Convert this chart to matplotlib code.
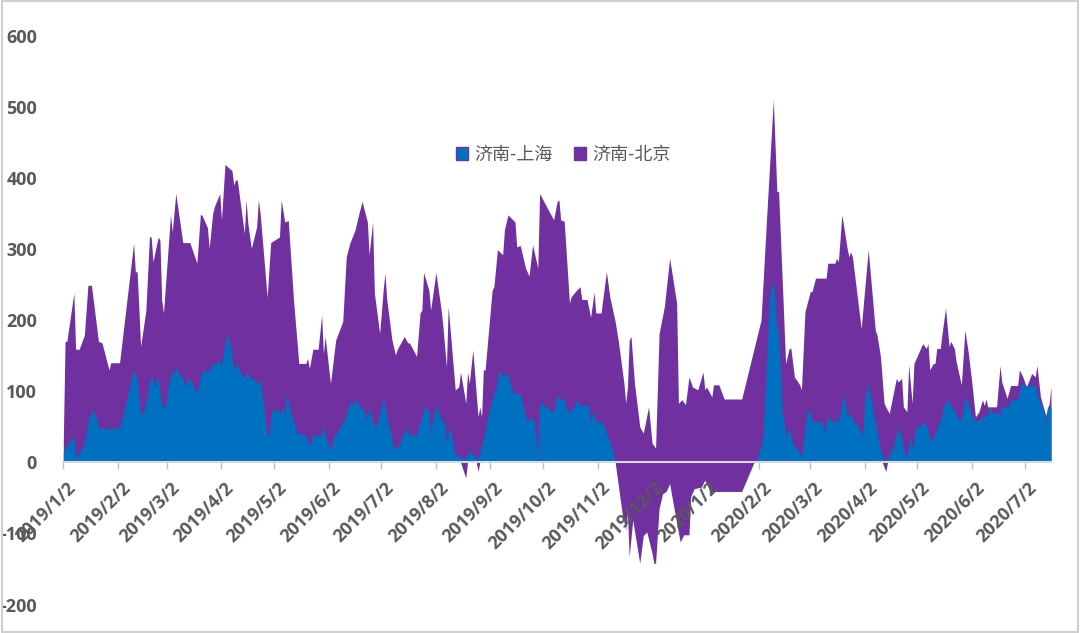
import matplotlib
matplotlib.use('Agg')
import matplotlib.pyplot as plt
import numpy as np
from matplotlib.patches import Patch, Rectangle

# ---------------- data ----------------
sh_dates = ['2019-01-02','2019-01-03','2019-01-05','2019-01-08','2019-01-09','2019-01-10','2019-01-12','2019-01-14',
 '2019-01-16','2019-01-17','2019-01-19','2019-01-21','2019-01-22','2019-02-03','2019-02-07','2019-02-11','2019-02-13',
 '2019-02-15','2019-02-17','2019-02-19','2019-02-20','2019-02-21','2019-02-23','2019-02-25','2019-02-27','2019-03-01',
 '2019-03-03','2019-03-05','2019-03-06','2019-03-07','2019-03-09','2019-03-11','2019-03-12','2019-03-14','2019-03-16',
 '2019-03-19','2019-03-22','2019-03-26','2019-03-28','2019-03-30','2019-04-01','2019-04-02','2019-04-05','2019-04-07',
 '2019-04-09','2019-04-11','2019-04-12','2019-04-15','2019-04-16','2019-04-18','2019-04-21','2019-04-23','2019-04-24',
 '2019-04-26','2019-04-28','2019-04-29','2019-05-01','2019-05-04','2019-05-05','2019-05-07','2019-05-08','2019-05-09',
 '2019-05-11','2019-05-13','2019-05-15','2019-05-20','2019-05-21','2019-05-23','2019-05-24','2019-05-29','2019-05-30',
 '2019-05-31','2019-06-03','2019-06-05','2019-06-08','2019-06-10','2019-06-12','2019-06-14','2019-06-16','2019-06-18',
 '2019-06-20','2019-06-22','2019-06-24','2019-06-25','2019-06-28','2019-06-30','2019-07-01','2019-07-03','2019-07-05',
 '2019-07-07','2019-07-09','2019-07-11','2019-07-13','2019-07-16','2019-07-18','2019-07-22','2019-07-25','2019-07-27',
 '2019-07-29','2019-07-30','2019-08-02','2019-08-05','2019-08-07','2019-08-08','2019-08-10','2019-08-13','2019-08-18',
 '2019-08-22','2019-08-23','2019-08-26','2019-08-29','2019-09-01','2019-09-04','2019-09-05','2019-09-07','2019-09-09',
 '2019-09-11','2019-09-12','2019-09-15','2019-09-19','2019-09-21','2019-09-23','2019-09-25','2019-09-27','2019-09-29',
 '2019-09-30','2019-10-08','2019-10-10','2019-10-12','2019-10-14','2019-10-16','2019-10-19','2019-10-22','2019-10-23',
 '2019-10-28','2019-10-29','2019-10-31','2019-11-01','2019-11-04','2019-11-06','2019-11-08','2019-11-10','2019-11-12',
 '2020-01-31','2020-02-04','2020-02-08','2020-02-10','2020-02-12','2020-02-13','2020-02-15','2020-02-17','2020-02-19',
 '2020-02-21','2020-02-24','2020-02-26','2020-02-27','2020-02-29','2020-03-02','2020-03-03','2020-03-09','2020-03-10',
 '2020-03-12','2020-03-15','2020-03-16','2020-03-18','2020-03-21','2020-03-23','2020-03-25','2020-03-27','2020-03-29',
 '2020-03-31','2020-04-01','2020-04-02','2020-04-04','2020-04-05','2020-04-08','2020-04-11','2020-04-13','2020-04-15',
 '2020-04-18','2020-04-21','2020-04-23','2020-04-24','2020-04-26','2020-04-28','2020-04-29','2020-05-01','2020-05-03',
 '2020-05-06','2020-05-08','2020-05-09','2020-05-11','2020-05-12','2020-05-13','2020-05-15','2020-05-17','2020-05-19',
 '2020-05-20','2020-05-21','2020-05-23','2020-05-26','2020-05-28','2020-05-29','2020-05-31','2020-06-02','2020-06-05',
 '2020-06-08','2020-06-11','2020-06-12','2020-06-14','2020-06-18','2020-06-19','2020-06-23','2020-06-24','2020-06-28',
 '2020-06-30','2020-07-02','2020-07-03','2020-07-08','2020-07-10','2020-07-13','2020-07-14','2020-07-15','2020-07-17']
sh_values = [15,20,27,36,8,8,17,27,
 55,66,74,62,48,48,88,130,118,
 66,74,95,118,120,106,123,78,78,
 111,130,123,134,123,120,107,118,113,
 97,129,129,139,139,144,139,179,167,
 130,139,130,118,127,120,116,109,118,
 81,38,38,76,71,69,78,66,97,
 74,57,41,38,27,27,38,38,52,
 38,17,36,48,55,66,86,81,89,
 76,74,60,78,50,55,69,92,64,
 45,20,20,31,48,38,38,64,81,
 69,43,81,60,55,27,50,10,5,
 17,10,5,31,69,97,102,130,120,
 127,120,97,97,74,57,64,57,8,
 85,70,95,88,88,69,76,88,80,
 80,57,74,57,57,50,34,22,0,
 0,31,238,256,186,186,74,38,48,
 27,17,8,27,71,73,57,57,41,
 64,55,60,57,95,66,67,55,52,
 41,41,88,111,95,57,17,3,5,
 22,48,34,17,8,36,17,48,51,
 57,45,29,36,40,47,60,78,90,
 80,81,73,57,71,92,83,64,57,
 64,66,78,69,69,78,78,88,88,
 113,106,108,108,88,73,57,78,78]

bj_dates = ['2019-01-02','2019-01-03','2019-01-04','2019-01-08','2019-01-09','2019-01-11','2019-01-14','2019-01-16',
 '2019-01-18','2019-01-22','2019-01-24','2019-01-28','2019-01-29','2019-02-03','2019-02-11','2019-02-12','2019-02-13',
 '2019-02-15','2019-02-18','2019-02-20','2019-02-21','2019-02-22','2019-02-25','2019-02-26','2019-02-27','2019-02-28',
 '2019-03-04','2019-03-05','2019-03-07','2019-03-11','2019-03-15','2019-03-19','2019-03-21','2019-03-22','2019-03-25',
 '2019-03-26','2019-03-28','2019-03-29','2019-04-01','2019-04-02','2019-04-04','2019-04-08','2019-04-09','2019-04-10',
 '2019-04-11','2019-04-15','2019-04-16','2019-04-17','2019-04-19','2019-04-22','2019-04-23','2019-04-24','2019-04-28',
 '2019-04-30','2019-05-05','2019-05-06','2019-05-08','2019-05-10','2019-05-13','2019-05-16','2019-05-20','2019-05-21',
 '2019-05-22','2019-05-24','2019-05-27','2019-05-29','2019-05-30','2019-05-31','2019-06-03','2019-06-06','2019-06-10',
 '2019-06-12','2019-06-14','2019-06-17','2019-06-19','2019-06-21','2019-06-24','2019-06-25','2019-06-27','2019-06-28',
 '2019-07-01','2019-07-03','2019-07-04','2019-07-05','2019-07-08','2019-07-10','2019-07-11','2019-07-15','2019-07-17',
 '2019-07-18','2019-07-22','2019-07-24','2019-07-25','2019-07-26','2019-07-29','2019-07-30','2019-08-02','2019-08-05',
 '2019-08-06','2019-08-08','2019-08-09','2019-08-13','2019-08-15','2019-08-16','2019-08-19','2019-08-20','2019-08-21',
 '2019-08-23','2019-08-26','2019-08-27','2019-08-28','2019-08-29','2019-08-30','2019-09-03','2019-09-04','2019-09-06',
 '2019-09-09','2019-09-10','2019-09-12','2019-09-16','2019-09-17','2019-09-19','2019-09-22','2019-09-24','2019-09-26',
 '2019-09-29','2019-09-30','2019-10-08','2019-10-10','2019-10-11','2019-10-12','2019-10-14','2019-10-17','2019-10-18',
 '2019-10-21','2019-10-23','2019-10-24','2019-10-27','2019-10-29','2019-10-31','2019-11-01','2019-11-04','2019-11-05',
 '2019-11-07','2019-11-09','2019-11-12','2019-11-14','2019-11-17','2019-11-18','2019-11-19','2019-11-20','2019-11-21',
 '2019-11-23','2019-11-26','2019-11-28','2019-12-01','2019-12-03','2019-12-05','2019-12-07','2019-12-10','2019-12-13',
 '2019-12-17','2019-12-18','2019-12-20','2019-12-22','2019-12-24','2019-12-26','2019-12-29','2020-01-01','2020-01-02',
 '2020-01-03','2020-01-06','2020-01-07','2020-01-10','2020-01-13','2020-01-23','2020-02-03','2020-02-06','2020-02-10',
 '2020-02-12','2020-02-13','2020-02-17','2020-02-19','2020-02-20','2020-02-22','2020-02-24','2020-02-25','2020-02-26',
 '2020-02-28','2020-03-02','2020-03-03','2020-03-05','2020-03-11','2020-03-12','2020-03-16','2020-03-17','2020-03-18',
 '2020-03-20','2020-03-23','2020-03-24','2020-03-25','2020-03-26','2020-03-31','2020-04-04','2020-04-08','2020-04-09',
 '2020-04-11','2020-04-13','2020-04-15','2020-04-16','2020-04-20','2020-04-21','2020-04-23','2020-04-24','2020-04-26',
 '2020-04-27','2020-04-29','2020-04-30','2020-05-05','2020-05-07','2020-05-08','2020-05-09','2020-05-11','2020-05-12',
 '2020-05-13','2020-05-15','2020-05-16','2020-05-18','2020-05-20','2020-05-21','2020-05-23','2020-05-24','2020-05-27',
 '2020-05-29','2020-05-31','2020-06-02','2020-06-04','2020-06-06','2020-06-08','2020-06-09','2020-06-10','2020-06-11',
 '2020-06-16','2020-06-18','2020-06-19','2020-06-22','2020-06-24','2020-06-28','2020-06-29','2020-07-01','2020-07-03',
 '2020-07-06','2020-07-08','2020-07-09','2020-07-11','2020-07-14','2020-07-16','2020-07-17']
bj_values = [30,170,170,238,159,159,179,249,
 249,170,168,130,140,140,308,268,268,
 163,214,317,317,282,317,312,228,210,
 348,324,378,309,309,280,349,347,330,
 301,350,360,378,341,419,410,390,397,
 397,322,369,336,301,331,369,350,232,
 309,317,369,338,340,228,139,139,146,
 132,159,159,207,153,177,111,172,198,
 289,308,327,348,367,338,292,338,238,
 181,242,266,230,172,151,159,177,168,
 168,149,210,214,267,242,214,267,214,
 191,134,219,102,106,127,83,127,111,
 158,64,78,64,130,130,242,247,299,
 292,327,348,338,303,305,273,262,306,
 273,378,341,367,369,341,339,224,233,
 242,247,229,229,204,239,210,210,230,
 268,232,198,167,111,83,106,172,177,
 111,50,41,78,27,20,181,219,287,
 224,83,88,81,120,106,102,127,102,
 106,92,109,109,89,89,200,336,510,
 381,381,139,160,160,120,113,109,102,
 212,240,240,259,259,280,280,287,282,
 348,301,289,296,289,188,299,186,179,
 148,83,73,69,118,113,118,78,71,
 137,83,139,167,160,167,130,139,139,
 160,160,181,217,163,170,160,142,109,
 186,153,111,64,71,88,80,89,78,
 78,136,113,90,108,108,130,120,106,
 125,120,136,92,66,83,106]

# second (overlapping) record of 济南-北京 that dips below zero
bj_low_dates = ['2019-01-02','2019-08-16','2019-08-19','2019-08-20','2019-08-25','2019-08-26','2019-08-27',
 '2019-11-12','2019-11-16','2019-11-18','2019-11-19','2019-11-20','2019-11-22','2019-11-26','2019-11-28',
 '2019-11-30','2019-12-03','2019-12-04','2019-12-05','2019-12-07','2019-12-09','2019-12-11','2019-12-13',
 '2019-12-16','2019-12-19','2019-12-21','2019-12-24','2019-12-25','2019-12-27','2019-12-31','2020-01-02',
 '2020-01-05','2020-01-23','2020-01-30','2020-04-12','2020-04-14','2020-04-15','2020-07-17']
bj_low_values = [0,0,-22,0,0,-13,0,
 0,-72,-95,-72,-133,-81,-142,-103,
 -98,-128,-142,-142,-65,-44,-41,-30,
 -72,-112,-102,-102,-48,-37,-35,-25,
 -41,-41,0,0,-13,0,0]

series_names = ['济南-上海', '济南-北京']
colors = ['#0070C0', '#7030A0']
y_ticks = [-200, -100, 0, 100, 200, 300, 400, 500, 600]
x_start, x_end = '2019-01-02', '2020-07-17'
tick_dates = ['2019-01-02','2019-02-02','2019-03-02','2019-04-02','2019-05-02','2019-06-02','2019-07-02',
              '2019-08-02','2019-09-02','2019-10-02','2019-11-02','2019-12-02','2020-01-02','2020-02-02',
              '2020-03-02','2020-04-02','2020-05-02','2020-06-02','2020-07-02']
tick_labels = ['2019/1/2','2019/2/2','2019/3/2','2019/4/2','2019/5/2','2019/6/2','2019/7/2',
               '2019/8/2','2019/9/2','2019/10/2','2019/11/2','2019/12/2','2020/1/2','2020/2/2',
               '2020/3/2','2020/4/2','2020/5/2','2020/6/2','2020/7/2']

# ---------------- plot ----------------
plt.rcParams['font.family'] = ['Open Sans', 'DejaVu Sans']
fig = plt.figure(figsize=(10.8, 6.33), dpi=100)
ax = fig.add_axes([63.3 / 1080, 1 - 604.5 / 633, (1051 - 63.3) / 1080, (604.5 - 35.7) / 633])

bjd = np.array(bj_dates, dtype='datetime64[D]')
bld = np.array(bj_low_dates, dtype='datetime64[D]')
shd = np.array(sh_dates, dtype='datetime64[D]')
tkd = np.array(tick_dates, dtype='datetime64[D]')

ax.fill_between(bjd, 0, bj_values, color=colors[1], lw=0, zorder=2)
ax.fill_between(bld, bj_low_values, 0, color=colors[1], lw=0, zorder=2)
ax.fill_between(shd, 0, sh_values, color=colors[0], lw=0, zorder=3)

ax.set_xlim(np.datetime64(x_start), np.datetime64(x_end))
ax.set_ylim(-200, 600)

ax.set_yticks(y_ticks)
ax.set_yticklabels([str(v) for v in y_ticks], fontweight='bold')
ax.tick_params(axis='y', length=0, pad=19, labelsize=13, labelcolor='#595959')

ax.set_xticks(tkd)
ax.set_xticklabels([])
ax.tick_params(axis='x', length=5, width=1, color='#bfbfbf')
for d, lab in zip(tkd, tick_labels):
    ax.annotate(lab, xy=(d, 0), xycoords='data', xytext=(2.5, -12), textcoords='offset points',
                rotation=45, ha='right', va='top', rotation_mode='anchor',
                fontsize=13, fontweight='bold', color='#595959', zorder=5, annotation_clip=False)

for s in ['left', 'right', 'top']:
    ax.spines[s].set_visible(False)
ax.spines['bottom'].set_position(('data', 0))
ax.spines['bottom'].set_color('#d9d9d9')
ax.spines['bottom'].set_linewidth(1.5)
ax.spines['bottom'].set_zorder(4)
ax.patch.set_alpha(0)

handles = [Patch(facecolor=colors[0], edgecolor=colors[1], linewidth=1.0),
           Patch(facecolor=colors[1], edgecolor=colors[1], linewidth=1.0)]
fig.legend(handles, series_names, loc='center', bbox_to_anchor=(563 / 1080, 1 - 155 / 633),
           ncol=2, frameon=False, handlelength=0.7, handleheight=0.7, handletextpad=0.3,
           columnspacing=1.2, prop={'family': ['Noto Sans CJK SC', 'DejaVu Sans'], 'size': 13},
           labelcolor='#595959')

fig.patches.append(Rectangle((0.0015, 0.0015), 0.997, 0.997, transform=fig.transFigure,
                             fill=False, edgecolor='#d0d0d0', linewidth=1.5))

fig.savefig('out.png', dpi=100)
